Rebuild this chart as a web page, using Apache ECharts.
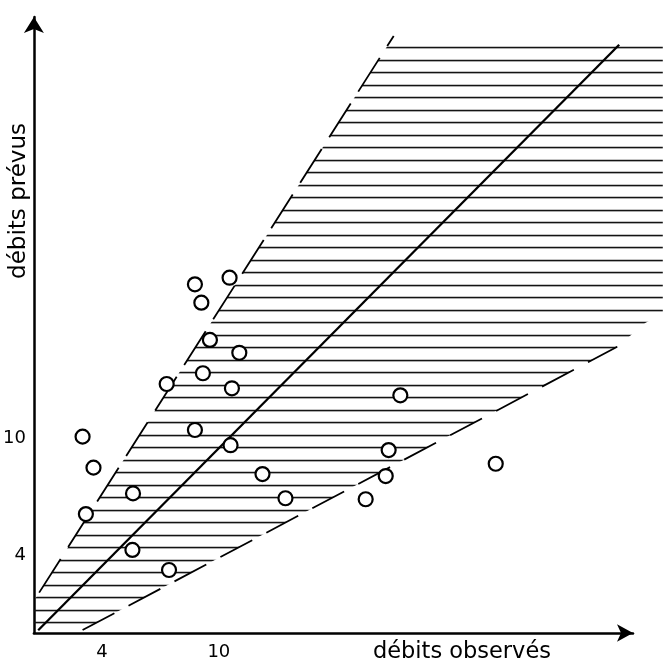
<!DOCTYPE html>
<html><head><meta charset="utf-8">
<script src="https://cdn.jsdelivr.net/npm/echarts@6/dist/echarts.min.js"></script>
<style>html,body{margin:0;padding:0;background:#fff}#c{width:663px;height:665px}</style>
</head><body><div id="c"></div>
<script>
// observed (x) and forecast (y) discharges of the plotted points
const debitsObserves = [8.77, 10.55, 9.10, 9.54, 11.05, 9.18, 7.32, 10.67, 19.32, 3.00, 8.77, 10.60, 18.72, 3.56, 24.22, 12.24, 18.57, 5.59, 13.42, 17.54, 3.17, 5.56, 7.44];
const debitsPrevus   = [17.88, 18.22, 16.94, 15.03, 14.37, 13.32, 12.77, 12.55, 12.19, 10.07, 10.41, 9.63, 9.38, 8.48, 8.68, 8.15, 8.05, 7.16, 6.91, 6.86, 6.10, 4.26, 3.23];
// tick labels
const tickValues = [4, 10];
const tickLabels = ['4', '10'];
// reference lines
const diagonalLine = [[0.72, 0.14], [30.56, 30.17]];
const upperBound = [[0.77, 2.07], [18.98, 30.62]];
const lowerBound = [[3.0, 0.15], [30.46, 14.68]];
// hatched tolerance band outline
const bandPolygon = [[0.5, 0], [2.72, 0], [30.46, 14.68], [31.9, 15.9], [32.8, 16.4], [32.8, 30.4], [18.84, 30.4], [0.5, 1.65]];

const FONT = 'DejaVu Sans';

// horizontal hatch pattern
const pc = document.createElement('canvas');
pc.width = 8; pc.height = 100;
const g = pc.getContext('2d');
g.fillStyle = '#141414';
for (let k = 0; k < 8; k++) {
  const r = Math.round(22 + 12.5 * k) % 100;
  g.fillRect(0, r - 0.25, 8, 1.6);
}

const chart = echarts.init(document.getElementById('c'), null, {renderer: 'canvas'});
chart.setOption({
  animation: false,
  backgroundColor: '#fff',
  grid: {left: 33, right: 30, top: 17, bottom: 32, containLabel: false},
  xAxis: {
    type: 'value', min: 0.5, max: 31.27,
    axisLine: {onZero: false, lineStyle: {color: '#000', width: 2.5}, symbol: ['none', 'arrow'], symbolSize: [13, 16]},
    axisTick: {show: false}, splitLine: {show: false},
    axisLabel: {customValues: tickValues, formatter: v => tickLabels[tickValues.indexOf(v)], color: '#000', fontFamily: FONT, fontSize: 18, margin: 10},
    name: 'débits observés', nameLocation: 'end', nameGap: -82,
    nameTextStyle: {color: '#000', fontFamily: FONT, fontSize: 22.5, align: 'right', verticalAlign: 'top', padding: [8, 0, 0, 0]}
  },
  yAxis: {
    type: 'value', min: 0, max: 31.59,
    axisLine: {onZero: false, lineStyle: {color: '#000', width: 2.5}, symbol: ['none', 'arrow'], symbolSize: [15, 16]},
    axisTick: {show: false}, splitLine: {show: false},
    axisLabel: {customValues: tickValues, formatter: v => tickLabels[tickValues.indexOf(v)], color: '#000', fontFamily: FONT, fontSize: 18, margin: 8},
    name: 'débits prévus', nameLocation: 'end', nameGap: -106, nameRotate: 90,
    nameTextStyle: {color: '#000', fontFamily: FONT, fontSize: 23, align: 'right', verticalAlign: 'bottom', padding: [0, 0, 3, 0]}
  },
  series: [
    {
      type: 'custom', coordinateSystem: 'cartesian2d', clip: false, silent: true, z: 1,
      data: [[0, 0]],
      renderItem: (params, api) => ({
        type: 'polygon',
        shape: {points: bandPolygon.map(p => api.coord(p))},
        style: {fill: {image: pc, repeat: 'repeat'}, stroke: null}
      })
    },
    {type: 'line', data: upperBound, symbol: 'none', silent: true, z: 2, clip: false,
     lineStyle: {color: '#000', width: 1.8, type: [40, 14]}},
    {type: 'line', data: lowerBound, symbol: 'none', silent: true, z: 2, clip: false,
     lineStyle: {color: '#000', width: 1.8, type: [36, 16]}},
    {type: 'line', data: diagonalLine, symbol: 'none', silent: true, z: 3,
     lineStyle: {color: '#000', width: 2.3}},
    {type: 'scatter', z: 4, silent: true,
     data: debitsObserves.map((x, i) => [x, debitsPrevus[i]]),
     symbol: 'circle', symbolSize: 14,
     itemStyle: {color: '#fff', borderColor: '#000', borderWidth: 2.2, opacity: 1}}
  ]
});
</script></body></html>
